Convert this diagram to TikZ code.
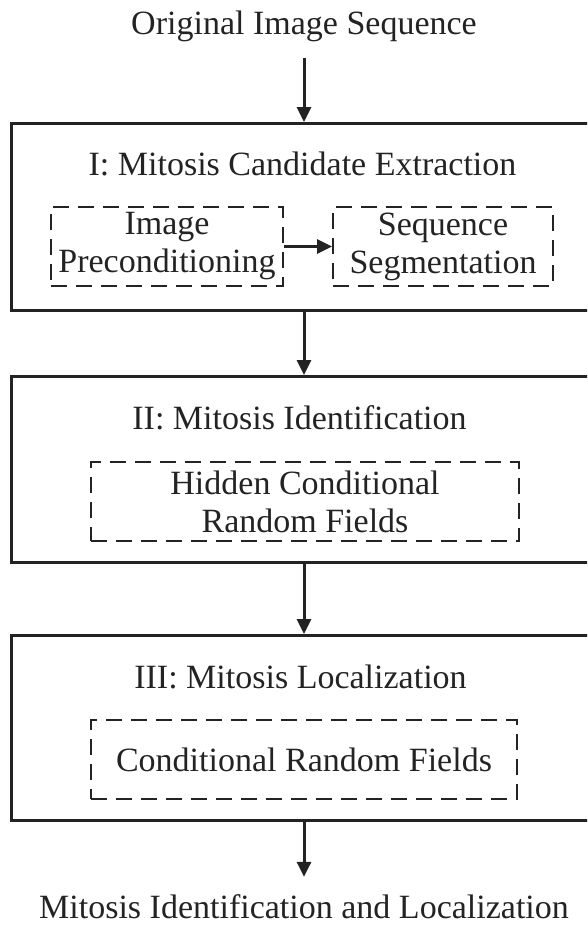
\documentclass[tikz,border=0pt]{standalone}
\usepackage{fontspec}
\setmainfont{Liberation Serif}
\usetikzlibrary{arrows.meta}
\definecolor{ink}{RGB}{35,35,35}
\begin{document}
\begin{tikzpicture}[x=1pt,y=-1pt,
  txt/.style={font=\fontsize{34}{38}\selectfont, text=ink, inner sep=0pt},
  outerbox/.style={draw=ink, line width=3pt, minimum width=586pt, inner sep=0pt},
  dbox/.style={draw=ink, line width=2pt, dash pattern=on 16pt off 9pt, inner sep=0pt,
    align=center, font=\fontsize{34}{38}\selectfont, text=ink, minimum height=79pt},
  flow/.style={draw=ink, line width=3pt, -{Triangle[length=15pt,width=14pt]}}]
\useasboundingbox (0,0) rectangle (587,926);
\clip (0,0) rectangle (587,926);
% top input
\node[txt, anchor=base] (src) at (304,34) {Original Image Sequence};
% stage I
\node[outerbox, minimum height=187pt] (boxI) at (304,217) {};
\node[txt, anchor=base] (tI) at (302.5,175) {I: Mitosis Candidate Extraction};
\node[dbox, minimum width=232pt] (pre) at (167,246.5) {Image\\Preconditioning};
\node[dbox, minimum width=220pt] (seg) at (443,246.5) {Sequence\\Segmentation};
% stage II
\node[outerbox, minimum height=185.5pt] (boxII) at (304,469.25) {};
\node[txt, anchor=base] (tII) at (299.5,429) {II: Mitosis Identification};
\node[dbox, minimum width=428pt] (hcrf) at (305,501.5) {Hidden Conditional\\Random Fields};
% stage III
\node[outerbox, minimum height=185pt] (boxIII) at (304,728) {};
\node[txt, anchor=base] (tIII) at (300.5,688) {III: Mitosis Localization};
\node[dbox, minimum width=426pt] (crf) at (304,759.5) {Conditional Random Fields};
% output
\node[txt, anchor=base] (out) at (304,918) {Mitosis Identification and Localization};
% connectors
\draw[flow] ([yshift=-16pt]src.south) -- (boxI.north);
\draw[flow] (pre.east) -- (seg.west);
\draw[flow] (boxI.south) -- (boxII.north);
\draw[flow] (boxII.south) -- (boxIII.north);
\draw[flow] (boxIII.south) -- ([yshift=17pt]out.north);
\end{tikzpicture}
\end{document}
